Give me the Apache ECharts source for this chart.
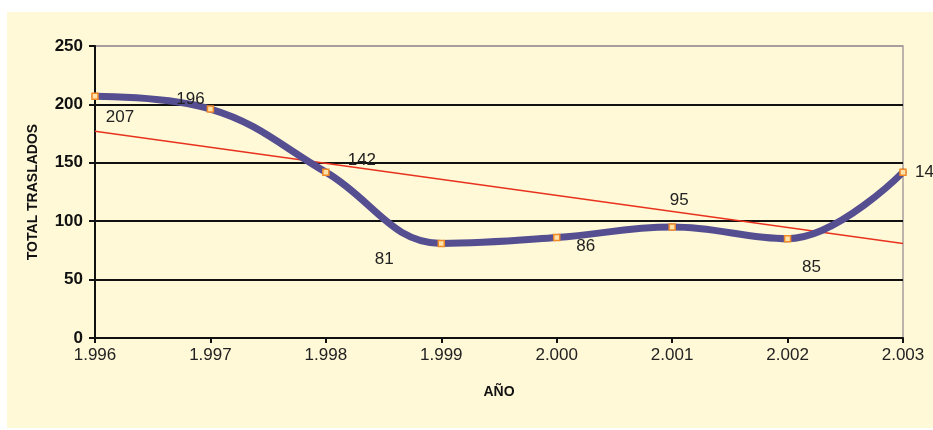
<!DOCTYPE html>
<html>
<head>
<meta charset="utf-8">
<script src="https://cdn.jsdelivr.net/npm/echarts@6/dist/echarts.min.js"></script>
<style>
html,body{margin:0;padding:0;background:#ffffff;}
#chart{width:933px;height:430px;}
</style>
</head>
<body>
<div id="chart"></div>
<script>
// ---- data ----
var categories = ['1.996', '1.997', '1.998', '1.999', '2.000', '2.001', '2.002', '2.003'];
var traslados = [207, 196, 142, 81, 86, 95, 85, 142];
var trendStart = 177;   // trend line value at first year
var trendEnd = 81;      // trend line value at last year
var yTicks = [0, 50, 100, 150, 200, 250];

// ---- label placement (style, not data) ----
var labelOffsets = [[25, 21], [-20, -10], [36, -12], [-57, 16], [29, 9], [7, -27], [24, 29], [12, 0]];
var labelAligns = ['center', 'center', 'center', 'center', 'center', 'center', 'center', 'left'];

var lineData = traslados.map(function (v, i) {
  return {
    value: v,
    label: { offset: labelOffsets[i], align: labelAligns[i] }
  };
});

var chart = echarts.init(document.getElementById('chart'), null, { renderer: 'canvas' });
var FONT = '"Liberation Sans", Arial, sans-serif';

chart.setOption({
  backgroundColor: '#ffffff',
  animation: false,
  graphic: [{
    type: 'rect',
    z: -10,
    silent: true,
    shape: { x: 7, y: 12, width: 926, height: 416 },
    style: { fill: '#FFF9D7' }
  }],
  grid: {
    left: 95, right: 30, top: 46, bottom: 92,
    show: true,
    borderColor: '#A89E9E',
    borderWidth: 1.5,
    backgroundColor: 'transparent'
  },
  xAxis: {
    type: 'category',
    data: categories,
    boundaryGap: false,
    name: 'AÑO',
    nameLocation: 'middle',
    nameGap: 47,
    nameTextStyle: { fontFamily: FONT, fontSize: 14, fontWeight: 'bold', color: '#111' },
    axisLine: { show: true, lineStyle: { color: '#111', width: 2 } },
    axisTick: { show: true, length: 5, lineStyle: { color: '#111', width: 2 }, alignWithLabel: true },
    axisLabel: { fontFamily: FONT, fontSize: 17, color: '#222', margin: 9 },
    splitLine: { show: false }
  },
  yAxis: {
    type: 'value',
    min: yTicks[0],
    max: yTicks[yTicks.length - 1],
    interval: 50,
    name: 'TOTAL TRASLADOS',
    nameLocation: 'middle',
    nameGap: 55,
    nameRotate: 90,
    nameTextStyle: { fontFamily: FONT, fontSize: 14, fontWeight: 'bold', color: '#111' },
    axisLine: { show: true, lineStyle: { color: '#111', width: 2 } },
    axisTick: { show: true, length: 6, lineStyle: { color: '#111', width: 2 } },
    axisLabel: { fontFamily: FONT, fontSize: 17, fontWeight: 'bold', color: '#111', margin: 12 },
    splitLine: {
      show: true,
      lineStyle: { color: ['#111', '#111', '#111', '#111', '#111', '#A89E9E'], width: 1.8 }
    }
  },
  series: [
    {
      type: 'line',
      name: 'Tendencia',
      data: [[categories[0], trendStart], [categories[categories.length - 1], trendEnd]],
      symbol: 'none',
      lineStyle: { color: '#E8321E', width: 1.5 },
      z: 2,
      silent: true
    },
    {
      type: 'line',
      name: 'Total traslados',
      data: lineData,
      smooth: 0.4,
      symbol: 'rect',
      symbolSize: 6,
      showAllSymbol: true,
      lineStyle: { color: '#554F91', width: 7, cap: 'round', join: 'round' },
      itemStyle: { color: '#FFE2A8', borderColor: '#F08A28', borderWidth: 1.5 },
      label: {
        show: true,
        position: 'inside',
        fontFamily: FONT,
        fontSize: 17,
        color: '#222',
        verticalAlign: 'middle'
      },
      z: 3
    }
  ]
});
</script>
</body>
</html>
